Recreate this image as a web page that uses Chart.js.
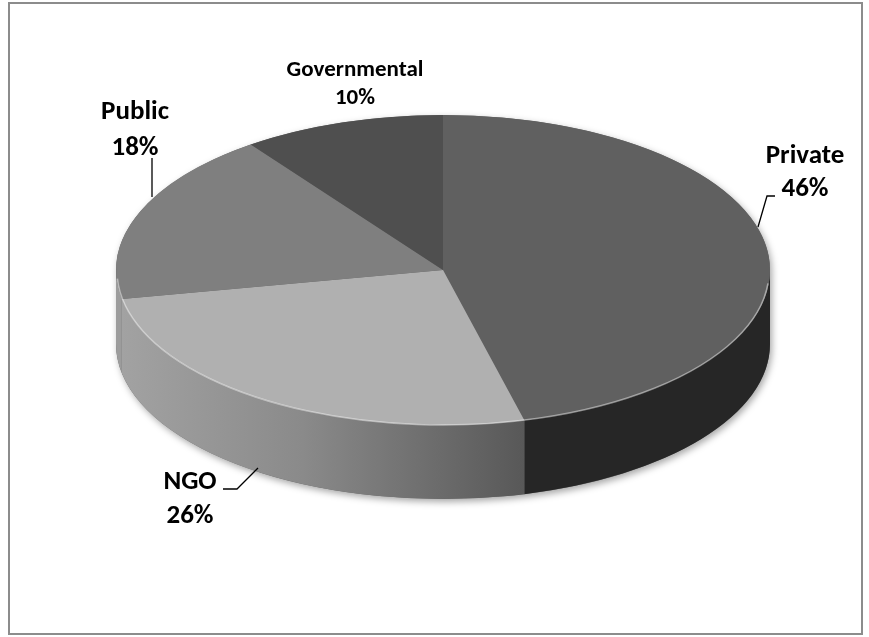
<!DOCTYPE html>
<html>
<head>
<meta charset="utf-8">
<script src="https://cdn.jsdelivr.net/npm/chart.js@4.4.1/dist/chart.umd.min.js"></script>
<style>
  html, body { margin: 0; padding: 0; background: #fff; }
  #wrap { position: relative; width: 869px; height: 637px; }
  #frame { position: absolute; left: 8px; top: 2px; width: 851px; height: 629px; border: 2px solid #8c8c8c; }
  #chart { position: absolute; left: 0; top: 0; }
</style>
</head>
<body>
<div id="wrap">
  <div id="frame"></div>
  <canvas id="chart" width="869" height="637"></canvas>
</div>
<script>
/* ---------- DATA ---------- */

const labels = ["Private", "NGO", "Public", "Governmental"];
const shares = [46, 26, 18, 10];

/* ---------- STYLE ---------- */

const topColors = ["#606060", "#b0b0b0", "#7f7f7f", "#4f4f4f"];
const sideColors = ["#262626", "gradient", "#9c9c9c", "#3a3a3a"];

// where the flattened pie lands on the page
const pie3d = { cx: 443, cy: 270, rx: 327, ry: 155, depth: 74 };

// label anchors (baselines) and leader lines
const labelLayout = [
  { x: 805, base: [163, 196], size: 27, leader: [[775, 196], [767, 196], [758, 227]] },
  { x: 190, base: [489, 523], size: 27, leader: [[223, 489], [237, 489], [258, 468]] },
  { x: 135, base: [119, 155], size: 27, leader: [[152, 158], [152, 197]] },
  { x: 355, base: [76, 104], size: 23, leader: null }
];

const labelFont = "Carlito, Lato, sans-serif";

/* ---------- PLUGIN: 3D PIE ---------- */

let transformed = false;

const pie3dPlugin = {
  id: "pie3d",
  beforeDatasetsDraw(chart) {
    const { ctx } = chart;
    const arcs = chart.getDatasetMeta(0).data;
    if (!arcs.length) return;
    const { cx, cy, rx, ry, depth } = pie3d;

    // soft shadow under the whole disc
    ctx.save();
    ctx.shadowColor = "rgba(0,0,0,0.35)";
    ctx.shadowBlur = 7;
    ctx.shadowOffsetX = 2;
    ctx.shadowOffsetY = 3;
    ctx.fillStyle = "#666";
    ctx.beginPath();
    ctx.moveTo(cx - rx, cy);
    ctx.ellipse(cx, cy, rx, ry, 0, Math.PI, 2 * Math.PI);
    ctx.lineTo(cx + rx, cy + depth);
    ctx.ellipse(cx, cy + depth, rx, ry, 0, 0, Math.PI);
    ctx.closePath();
    ctx.fill();
    ctx.restore();

    // front walls, one per slice, from the arc angles chart.js computed
    arcs.forEach((arc, i) => {
      const a = Math.max(arc.startAngle, 0);
      const b = Math.min(arc.endAngle, Math.PI);
      if (b <= a) return;
      let fill = sideColors[i];
      if (fill === "gradient") {
        const g = ctx.createLinearGradient(cx + rx * Math.cos(b), 0, cx + rx * Math.cos(a), 0);
        g.addColorStop(0, "#a2a2a2");
        g.addColorStop(0.45, "#8a8a8a");
        g.addColorStop(1, "#585858");
        fill = g;
      }
      ctx.save();
      ctx.fillStyle = fill;
      ctx.beginPath();
      ctx.ellipse(cx, cy, rx, ry, 0, a, b);
      ctx.lineTo(cx + rx * Math.cos(b), cy + depth + ry * Math.sin(b));
      ctx.ellipse(cx, cy + depth, rx, ry, 0, b, a, true);
      ctx.closePath();
      ctx.fill();
      ctx.restore();
    });

    // flatten the library's pie into the top face
    const a0 = arcs[0];
    const R = a0.outerRadius;
    ctx.save();
    ctx.translate(cx, cy);
    ctx.scale(rx / R, ry / R);
    ctx.translate(-a0.x, -a0.y);
    transformed = true;
  },
  afterDatasetsDraw(chart) {
    const { ctx } = chart;
    if (!transformed) return;
    ctx.restore();
    transformed = false;

    const { cx, cy, rx, ry } = pie3d;
    // light bevel along the front rim
    ctx.save();
    ctx.strokeStyle = "rgba(255,255,255,0.45)";
    ctx.lineWidth = 1.5;
    ctx.beginPath();
    ctx.ellipse(cx, cy + 1, rx - 1, ry - 1, 0, 0.08, Math.PI - 0.05);
    ctx.stroke();
    ctx.restore();
  }
};

/* ---------- PLUGIN: LABELS ---------- */

const outsideLabels = {
  id: "outsideLabels",
  afterDraw(chart) {
    const { ctx } = chart;
    ctx.save();
    ctx.fillStyle = "#000";
    ctx.strokeStyle = "#000";
    ctx.lineWidth = 1.3;
    ctx.textAlign = "center";
    ctx.textBaseline = "alphabetic";
    labels.forEach((name, i) => {
      const L = labelLayout[i];
      ctx.font = "bold " + L.size + "px " + labelFont;
      ctx.fillText(name, L.x, L.base[0]);
      ctx.fillText(shares[i] + "%", L.x, L.base[1]);
      if (L.leader) {
        ctx.beginPath();
        L.leader.forEach((p, k) => (k ? ctx.lineTo(p[0], p[1]) : ctx.moveTo(p[0], p[1])));
        ctx.stroke();
      }
    });
    ctx.restore();
  }
};

/* ---------- CHART ---------- */

new Chart(document.getElementById("chart"), {
  type: "pie",
  data: {
    labels,
    datasets: [{
      data: shares,
      backgroundColor: topColors,
      borderWidth: 0,
      hoverOffset: 0,
      clip: false
    }]
  },
  options: {
    responsive: false,
    animation: false,
    events: [],
    layout: { padding: 0 },
    plugins: {
      legend: { display: false },
      tooltip: { enabled: false }
    }
  },
  plugins: [pie3dPlugin, outsideLabels]
});
</script>
</body>
</html>
